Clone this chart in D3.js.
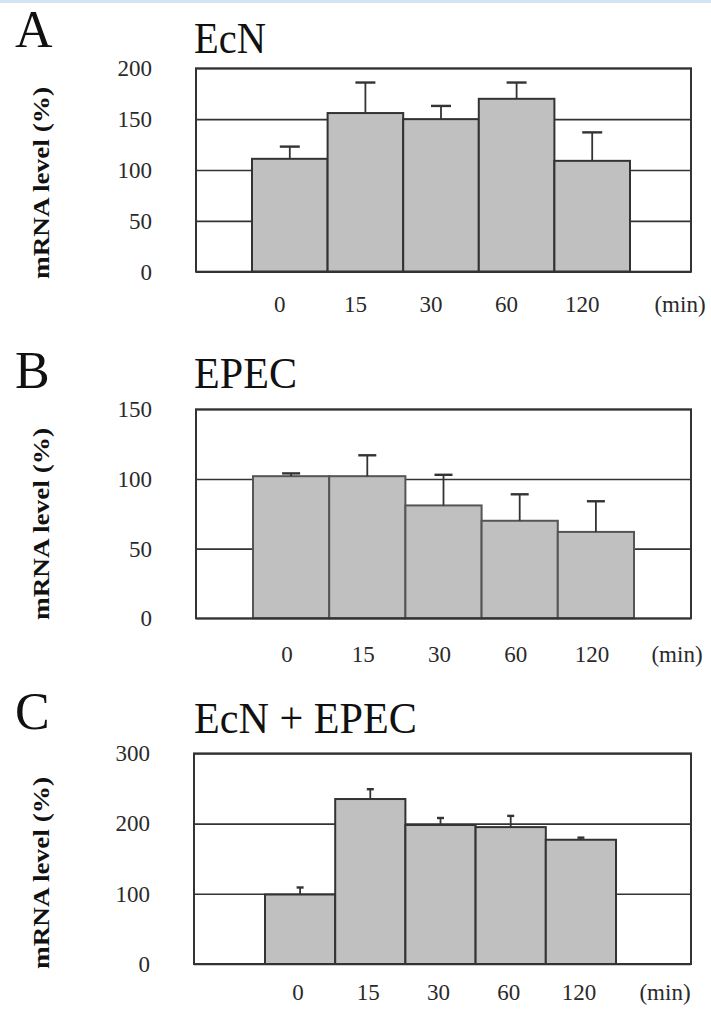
<!DOCTYPE html>
<html>
<head>
<meta charset="utf-8">
<script src="https://cdn.jsdelivr.net/npm/d3@7"></script>
<style>
  html, body { margin: 0; padding: 0; background: #fff; }
  svg { display: block; }
</style>
</head>
<body>
<svg id="chart" width="711" height="1010"></svg>
<script>
// ---- data ----
const categories = ["0", "15", "30", "60", "120"];
const unitLabel = "(min)";
const yTitle = "mRNA level (%)";

const panelLetters = ["A", "B", "C"];
const panelTitles = ["EcN", "EPEC", "EcN + EPEC"];

const valuesA = [111, 156, 150, 170, 109];
const errorsA = [12, 30, 13, 16, 28];
const ticksA = [0, 50, 100, 150, 200];

const valuesB = [102, 102, 81, 70, 62];
const errorsB = [2, 15, 22, 19, 22];
const ticksB = [0, 50, 100, 150];

const valuesC = [99, 235, 198, 195, 177];
const errorsC = [10, 14, 10, 16, 3];
const ticksC = [0, 100, 200, 300];

// ---- layout (positions / styles only) ----
const layout = [
  { values: valuesA, errors: errorsA, ticks: ticksA,
    frameX: [196, 691], barX: [252, 630], yRange: [271.7, 68.3],
    letterY: 47, titleY: 53, titleLen: 72, xLabelY: 305, xLabelShift: -10, capW: 20,
    barStroke: "#333", yTitleY: 183, minX: 680 },
  { values: valuesB, errors: errorsB, ticks: ticksB,
    frameX: [196, 691], barX: [253, 634], yRange: [618.3, 409.3],
    letterY: 388, titleY: 388, titleLen: 103, xLabelY: 655, xLabelShift: -4, capW: 18,
    barStroke: "#555", yTitleY: 524, minX: 677 },
  { values: valuesC, errors: errorsC, ticks: ticksC,
    frameX: [194, 691], barX: [265, 616], yRange: [964, 753.4],
    letterY: 729, titleY: 733, titleLen: 223, xLabelY: 993, xLabelShift: -2, capW: 7,
    barStroke: "#333", yTitleY: 873, minX: 665 }
];

const svg = d3.select("#chart");
const serif = "'Liberation Serif', 'DejaVu Serif', serif";
const ink = "#2a2a2a";

// top light-blue strip
svg.append("rect").attr("x", 0).attr("y", 0).attr("width", 711).attr("height", 3)
  .attr("fill", "#d3e4f3");

layout.forEach((p, i) => {
  const g = svg.append("g");
  const maxTick = p.ticks[p.ticks.length - 1];
  const y = d3.scaleLinear().domain([0, maxTick]).range(p.yRange);
  const x = d3.scaleBand().domain(categories).range(p.barX).padding(0);
  const fw = p.frameX[1] - p.frameX[0];

  // panel letter
  g.append("text").attr("x", 15).attr("y", p.letterY)
    .attr("font-family", serif).attr("font-size", 52).attr("fill", "#111")
    .text(panelLetters[i]);

  // panel title
  g.append("text").attr("x", 194).attr("y", p.titleY)
    .attr("font-family", serif).attr("font-size", 44).attr("fill", "#111")
    .attr("textLength", p.titleLen).attr("lengthAdjust", "spacingAndGlyphs")
    .text(panelTitles[i]);

  // y axis with gridlines
  const yAxis = d3.axisLeft(y).tickValues(p.ticks).tickFormat(d3.format("d"))
    .tickSizeInner(-fw).tickSizeOuter(0).tickPadding(44);
  const ag = g.append("g").attr("transform", `translate(${p.frameX[0]},0)`).call(yAxis);
  ag.select(".domain").remove();
  ag.selectAll(".tick line").attr("stroke", "#333").attr("stroke-width", 1.6);
  ag.selectAll(".tick text").attr("font-family", serif).attr("font-size", 23)
    .attr("fill", ink);

  // y title
  g.append("text")
    .attr("transform", `translate(49,${p.yTitleY}) rotate(-90)`)
    .attr("text-anchor", "middle")
    .attr("font-family", serif).attr("font-weight", "bold").attr("font-size", 23)
    .attr("fill", "#111")
    .attr("textLength", 192).attr("lengthAdjust", "spacingAndGlyphs")
    .text(yTitle);

  // bars
  g.selectAll("rect.bar").data(p.values).join("rect").attr("class", "bar")
    .attr("x", (d, j) => x(categories[j]))
    .attr("y", d => y(d))
    .attr("width", x.bandwidth())
    .attr("height", d => y(0) - y(d))
    .attr("fill", "#c0c0c0")
    .attr("stroke", p.barStroke).attr("stroke-width", 2);

  // error bars
  const eg = g.append("g").attr("stroke", "#333");
  p.values.forEach((v, j) => {
    const cx = x(categories[j]) + x.bandwidth() / 2;
    const top = y(v + p.errors[j]);
    eg.append("line").attr("x1", cx).attr("x2", cx).attr("y1", y(v)).attr("y2", top)
      .attr("stroke-width", 1.8);
    eg.append("line").attr("x1", cx - p.capW / 2).attr("x2", cx + p.capW / 2)
      .attr("y1", top).attr("y2", top).attr("stroke-width", 2.4);
  });

  // frame
  g.append("rect").attr("x", p.frameX[0]).attr("y", y(maxTick))
    .attr("width", fw).attr("height", y(0) - y(maxTick))
    .attr("fill", "none").attr("stroke", "#333").attr("stroke-width", 2);

  // x axis labels
  const xAxis = d3.axisBottom(x).tickSize(0).tickPadding(0);
  const xg = g.append("g").attr("transform", `translate(${p.xLabelShift},${p.xLabelY})`).call(xAxis);
  xg.select(".domain").remove();
  xg.selectAll(".tick text").attr("font-family", serif).attr("font-size", 23)
    .attr("fill", ink).attr("dy", "0.32em");

  g.append("text").attr("x", p.minX).attr("y", p.xLabelY).attr("dy", "0.32em")
    .attr("text-anchor", "middle")
    .attr("font-family", serif).attr("font-size", 23).attr("fill", ink)
    .text(unitLabel);
});
</script>
</body>
</html>
